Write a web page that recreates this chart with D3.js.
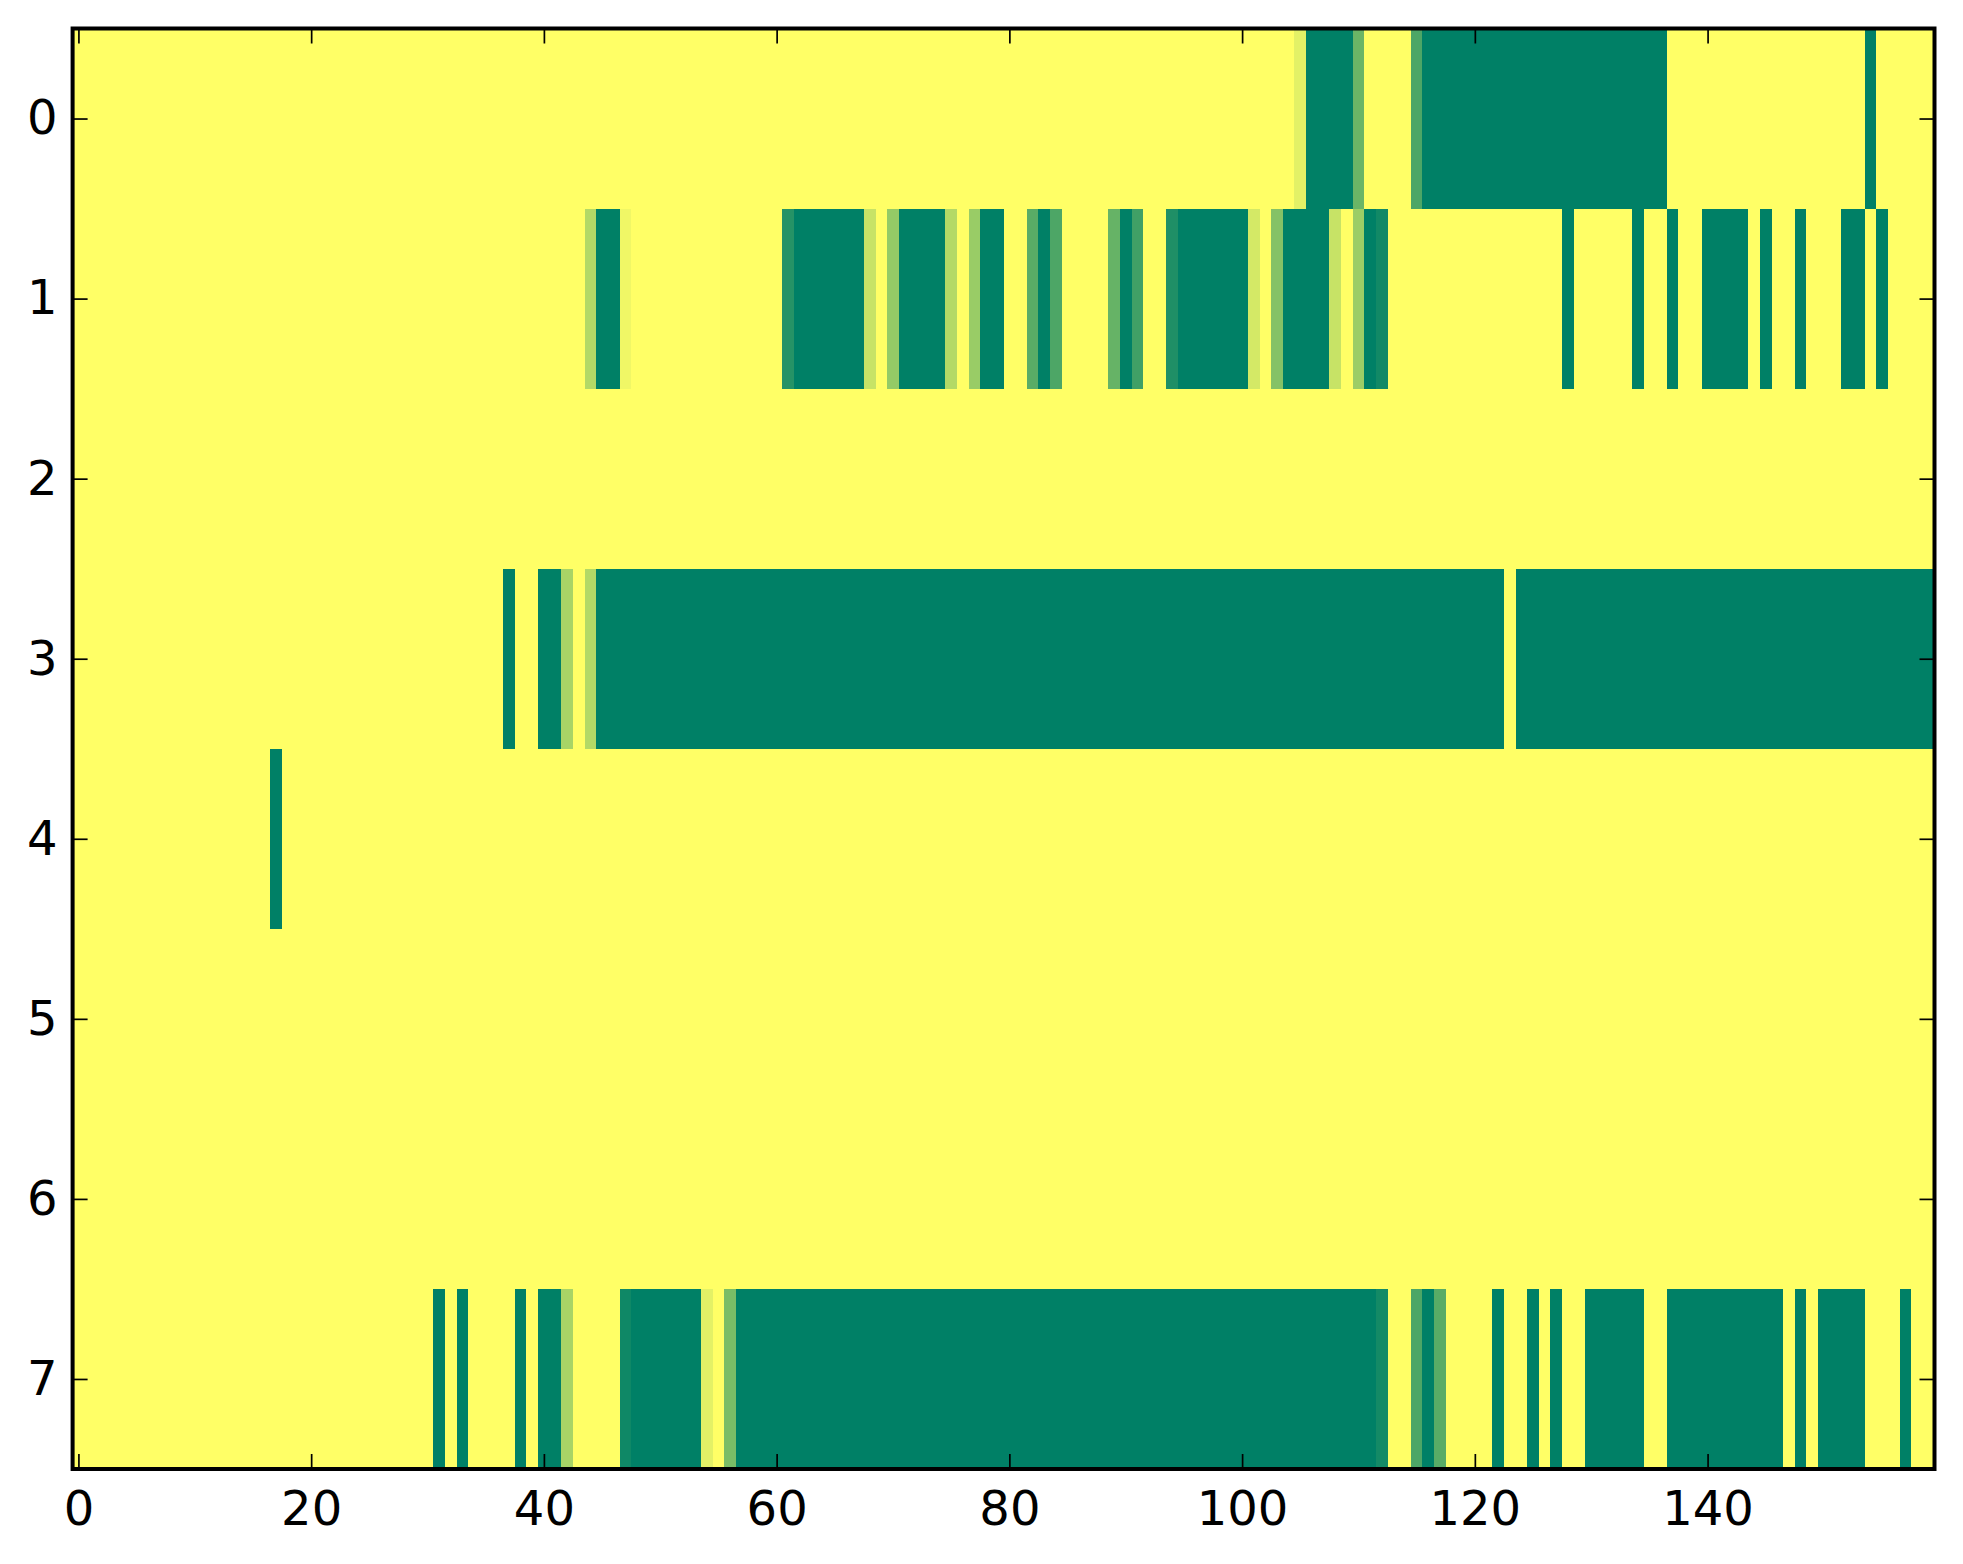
<!DOCTYPE html>
<html>
<head>
<meta charset="utf-8">
<script src="https://cdn.jsdelivr.net/npm/d3@7"></script>
<style>
  body { margin: 0; background: #fff; }
  svg { display: block; }
</style>
</head>
<body>
<div id="frame"></div>
<script>
//runs of cells per row: [firstColumn, lastColumn, value], every other cell is 0
const row0Runs = [[105, 105, 0.11], [106, 109, 1], [110, 110, 0.58], [115, 115, 0.7], [116, 136, 1], [154, 154, 1]]
const row1Runs = [
  [44, 44, 0.3], [45, 46, 1], [47, 47, 0.06], [61, 61, 0.85], [62, 67, 1], [68, 68, 0.22],
  [70, 70, 0.42], [71, 74, 1], [75, 75, 0.3], [77, 77, 0.4], [78, 79, 1], [82, 82, 0.65],
  [83, 83, 1], [84, 84, 0.7], [89, 89, 0.6], [90, 90, 1], [91, 91, 0.75], [94, 94, 0.88],
  [95, 100, 1], [101, 101, 0.17], [103, 103, 0.48], [104, 107, 1], [108, 108, 0.22],
  [110, 110, 0.39], [111, 111, 1], [112, 112, 0.93], [128, 128, 1], [134, 134, 1],
  [137, 137, 1], [140, 143, 1], [145, 145, 1], [148, 148, 1], [152, 153, 1], [155, 155, 1]
]
const row2Runs = []
const row3Runs = [[37, 37, 1], [40, 41, 1], [42, 42, 0.34], [44, 44, 0.3], [45, 122, 1], [124, 159, 1]]
const row4Runs = [[17, 17, 1]]
const row5Runs = []
const row6Runs = []
const row7Runs = [
  [31, 31, 1], [33, 33, 1], [38, 38, 1], [40, 41, 1], [42, 42, 0.34], [47, 47, 0.94],
  [48, 53, 1], [54, 54, 0.11], [56, 56, 0.52], [57, 111, 1], [112, 112, 0.92],
  [115, 115, 0.7], [116, 116, 1], [117, 117, 0.65], [122, 122, 1], [125, 125, 1],
  [127, 127, 1], [130, 134, 1], [137, 146, 1], [148, 148, 1], [150, 153, 1], [157, 157, 1]
]
const rowRuns = [row0Runs, row1Runs, row2Runs, row3Runs, row4Runs, row5Runs, row6Runs, row7Runs]
const columns = d3.range(160)
const xTicks = [0, 20, 40, 60, 80, 100, 120, 140]
const yTicks = [0, 1, 2, 3, 4, 5, 6, 7]

//flatten the runs into one cell per row/column
const cells = []
rowRuns.forEach((runs, row) => {
  columns.forEach((col) => {
    const run = runs.find((r) => col >= r[0] && col <= r[1])
    cells.push({ row: row, col: col, value: run ? run[2] : 0 })
  })
})

const width = 1963
const height = 1564
const plot = { left: 72.6, right: 1934.5, top: 28.5, bottom: 1469 }

const svg = d3.select("#frame").append("svg")
  .attr("width", width)
  .attr("height", height)

const x = d3.scaleLinear([-0.5, columns.length - 0.5], [plot.left, plot.right])
const y = d3.scaleLinear([-0.5, rowRuns.length - 0.5], [plot.top, plot.bottom])
//summer_r: 0 -> yellow, 1 -> green
const color = d3.scaleLinear([0, 1], ["#ffff66", "#008066"])

svg.append("g")
  .attr("shape-rendering", "crispEdges")
  .selectAll("rect")
  .data(cells)
  .join("rect")
  .attr("x", d => x(d.col - 0.5))
  .attr("y", d => y(d.row - 0.5))
  .attr("width", d => x(d.col + 0.5) - x(d.col - 0.5) + 0.5)
  .attr("height", d => y(d.row + 0.5) - y(d.row - 0.5) + 0.5)
  .attr("fill", d => color(d.value))

const fontStyle = (g) => g.selectAll("text")
  .attr("font-family", "DejaVu Sans")
  .attr("font-size", 48)
  .attr("fill", "#000")

const tickStyle = (g) => {
  g.select(".domain").remove()
  g.selectAll(".tick line").attr("stroke", "#000").attr("stroke-width", 1.7)
}

svg.append("g")
  .attr("transform", `translate(0,${plot.bottom})`)
  .call(d3.axisBottom(x).tickValues(xTicks).tickSize(-15).tickPadding(22))
  .call(tickStyle)
  .call(fontStyle)

svg.append("g")
  .attr("transform", `translate(0,${plot.top})`)
  .call(d3.axisTop(x).tickValues(xTicks).tickSize(-15).tickFormat(""))
  .call(tickStyle)

svg.append("g")
  .attr("transform", `translate(${plot.left},0)`)
  .call(d3.axisLeft(y).tickValues(yTicks).tickSize(-15).tickPadding(15))
  .call(tickStyle)
  .call(fontStyle)

svg.append("g")
  .attr("transform", `translate(${plot.right},0)`)
  .call(d3.axisRight(y).tickValues(yTicks).tickSize(-15).tickFormat(""))
  .call(tickStyle)

svg.append("rect")
  .attr("x", plot.left)
  .attr("y", plot.top)
  .attr("width", plot.right - plot.left)
  .attr("height", plot.bottom - plot.top)
  .attr("fill", "none")
  .attr("stroke", "#000")
  .attr("stroke-width", 4)
</script>
</body>
</html>
